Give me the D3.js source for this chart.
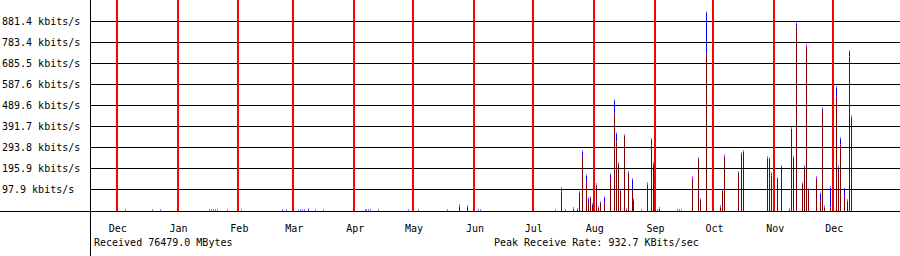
<!DOCTYPE html>
<html lang="en">
<head>
<meta charset="UTF-8">
<title>Receive rate, yearly</title>
<script src="https://cdn.jsdelivr.net/npm/d3@7"></script>
<style>
    body { margin: 0; background: #fff; }
    svg { display: block; }
    text {
        font-family: "DejaVu Sans Mono", monospace;
        font-size: 10px;
        fill: #000;
    }
</style>
</head>
<body>
<svg id="chart" width="900" height="256"></svg>
<script>
// daily samples: date, dark red (lower) part and blue part stacked on top, in kbits/s
const days = [
    "2009-12-05", "2009-12-19", "2009-12-23",
    "2010-01-17", "2010-01-18", "2010-01-19", "2010-01-20", "2010-01-21", "2010-01-26",
    "2010-02-02", "2010-02-23", "2010-02-25",
    "2010-03-03", "2010-03-04", "2010-03-05", "2010-03-06", "2010-03-08", "2010-03-12", "2010-03-16",
    "2010-04-06", "2010-04-07", "2010-04-08", "2010-04-09", "2010-04-13", "2010-04-28",
    "2010-05-03", "2010-05-18", "2010-05-24", "2010-05-28",
    "2010-06-03", "2010-06-04",
    "2010-07-12", "2010-07-15", "2010-07-17", "2010-07-21", "2010-07-23", "2010-07-24",
    "2010-07-26", "2010-07-28", "2010-07-29", "2010-07-30", "2010-07-31",
    "2010-08-02", "2010-08-03", "2010-08-04", "2010-08-06", "2010-08-09", "2010-08-11",
    "2010-08-12", "2010-08-13", "2010-08-14", "2010-08-16", "2010-08-17", "2010-08-18",
    "2010-08-20", "2010-08-21", "2010-08-25", "2010-08-28", "2010-08-30", "2010-08-31",
    "2010-09-02", "2010-09-03", "2010-09-12", "2010-09-13", "2010-09-14", "2010-09-20",
    "2010-09-23", "2010-09-24", "2010-09-27",
    "2010-10-04", "2010-10-05", "2010-10-06", "2010-10-13", "2010-10-15", "2010-10-16",
    "2010-10-28", "2010-10-29", "2010-10-30",
    "2010-11-02", "2010-11-04", "2010-11-08", "2010-11-09", "2010-11-10", "2010-11-12",
    "2010-11-15", "2010-11-16", "2010-11-17", "2010-11-18", "2010-11-22", "2010-11-24",
    "2010-11-25", "2010-11-26", "2010-11-29",
    "2010-12-02", "2010-12-03", "2010-12-04", "2010-12-06", "2010-12-08", "2010-12-09", "2010-12-10"
];
const redVals = [
    0, 0, 0,
    0, 0, 0, 0, 0, 0,
    0, 0, 0,
    0, 0, 0, 0, 0, 0, 0,
    0, 0, 0, 0, 0, 0,
    0, 0, 16, 14,
    0, 0,
    0, 86, 0, 6, 6, 80,
    251, 130, 30, 58, 26,
    114, 14, 34, 35, 148, 449,
    321, 217, 93, 347, 5, 175,
    97, 46, 0, 119, 302, 208,
    0, 8, 0, 0, 0, 148,
    240, 49, 730,
    12, 95, 248, 178, 266, 274,
    240, 147, 160,
    150, 205, 6, 385, 250, 857,
    128, 205, 761, 98, 147, 46,
    461, 12, 12,
    531, 197, 304, 62, 38, 717, 430
];
const blueVals = [
    5, 5, 5,
    5, 5, 5, 5, 5, 5,
    5, 5, 5,
    5, 5, 5, 5, 10, 8, 5,
    5, 5, 5, 5, 5, 5,
    5, 5, 14, 12,
    5, 5,
    5, 24, 5, 8, 7, 11,
    31, 40, 33, 10, 9,
    14, 7, 10, 33, 27, 71,
    45, 9, 6, 10, 7, 9,
    55, 12, 6, 14, 36, 18,
    5, 8, 5, 5, 5, 13,
    9, 9, 202.7,
    14, 4, 16, 6, 8, 7,
    13, 102, 20,
    6, 7, 6, 4, 6, 22,
    5, 7, 16, 6, 14, 40,
    20, 14, 102,
    50, 15, 39, 43, 16, 32, 15
];
const yTicks = [97.9, 195.9, 293.8, 391.7, 489.6, 587.6, 685.5, 783.4, 881.4];
const yMax = 979.4;
const monthNames = ["Dec", "Jan", "Feb", "Mar", "Apr", "May", "Jun", "Jul", "Aug", "Sep", "Oct", "Nov", "Dec"];
const totalText = "Received 76479.0 MBytes";
const peakText = "Peak Receive Rate: 932.7 KBits/sec";

const svg = d3.select("#chart");
const W = 900, H = 256, axisX = 90, baseY = 211;

const parse = d3.timeParse("%Y-%m-%d");
const start = new Date(2009, 11, 1);
const x = d3.scaleTime()
    .domain([d3.timeHour.offset(start, -326), d3.timeHour.offset(start, 24 * 399)])
    .range([axisX, W]);
const y = d3.scaleLinear().domain([0, yMax]).range([210.5, 0.5]);

const data = days.map((d, i) => ({date: parse(d), red: redVals[i], blue: blueVals[i]}));
const col = d => Math.floor(x(d3.timeHour.offset(d.date, 12)));

// bars
const bars = svg.append("g").attr("shape-rendering", "crispEdges");
bars.selectAll("rect.red").data(data.filter(d => d.red > 0)).join("rect")
    .attr("x", col).attr("width", 1)
    .attr("y", d => Math.round(y(d.red)))
    .attr("height", d => 211 - Math.round(y(d.red)))
    .attr("fill", "#800000");
bars.selectAll("rect.blue").data(data).join("rect")
    .attr("x", col).attr("width", 1)
    .attr("y", d => Math.round(y(d.red + d.blue)))
    .attr("height", d => Math.max(1, Math.round(y(d.red)) - Math.round(y(d.red + d.blue))))
    .attr("fill", "#0000ff");
bars.selectAll("rect.mid").data(data.filter(d => d.red > 0)).join("rect")
    .attr("x", col).attr("width", 1)
    .attr("y", d => Math.round(y(d.red)) - 1)
    .attr("height", 1)
    .attr("fill", "#ff00ff");
bars.selectAll("rect.cap").data(data).join("rect")
    .attr("x", col).attr("width", 1)
    .attr("y", d => Math.round(y(d.red + d.blue)))
    .attr("height", d => Math.min(2, 211 - Math.round(y(d.red + d.blue))))
    .attr("fill", "#8080ff");

// horizontal grid
svg.append("g").selectAll("line").data(yTicks).join("line")
    .attr("x1", axisX).attr("x2", W)
    .attr("y1", d => Math.floor(y(d)) + 0.5).attr("y2", d => Math.floor(y(d)) + 0.5)
    .attr("stroke", "#000").attr("stroke-width", 1);

// month lines
const months = d3.timeMonth.range(start, d3.timeDay.offset(start, 366));
svg.append("g").selectAll("rect").data(months).join("rect")
    .attr("x", d => Math.round(x(d)) - 1).attr("width", 2)
    .attr("y", 0).attr("height", baseY)
    .attr("fill", "#ff0000");

// axes
svg.append("line").attr("x1", 0).attr("x2", W).attr("y1", baseY + 0.5).attr("y2", baseY + 0.5)
    .attr("stroke", "#000");
svg.append("line").attr("x1", axisX + 0.5).attr("x2", axisX + 0.5).attr("y1", 0).attr("y2", H)
    .attr("stroke", "#000");

// labels
svg.append("g").selectAll("text").data(yTicks).join("text")
    .attr("x", 2).attr("y", d => Math.floor(y(d)) + 4)
    .text(d => d.toFixed(1) + " kbits/s");
svg.append("g").selectAll("text").data(months).join("text")
    .attr("x", d => x(d) + 1).attr("y", 231.5)
    .attr("text-anchor", "middle")
    .text((d, i) => monthNames[i]);
svg.append("text").attr("x", 94).attr("y", 245.5).text(totalText);
svg.append("text").attr("x", 494).attr("y", 245.5).text(peakText);
</script>
</body>
</html>
